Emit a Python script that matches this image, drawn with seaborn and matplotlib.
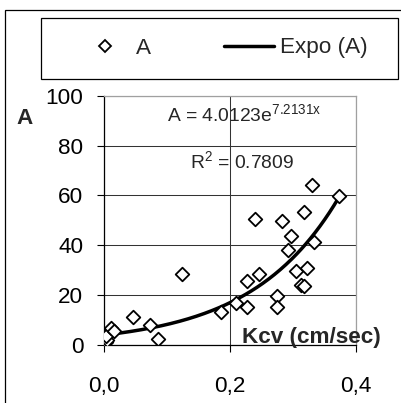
import numpy as np
import pandas as pd
import matplotlib
matplotlib.use("Agg")
import matplotlib.pyplot as plt
from matplotlib.patches import Rectangle
from matplotlib.lines import Line2D
import seaborn as sns

# ---- data ----
kcv = [0.003, 0.004, 0.003, 0.010, 0.015, 0.045, 0.073, 0.085, 0.123, 0.186,
       0.209, 0.227, 0.227, 0.240, 0.246, 0.274, 0.274, 0.283, 0.293, 0.297,
       0.305, 0.313, 0.318, 0.318, 0.322, 0.331, 0.334, 0.373]
a_vals = [1.3, 2.2, 3.8, 6.7, 5.7, 11.1, 8.0, 2.4, 28.6, 13.3,
          17.0, 15.1, 25.5, 50.7, 28.6, 19.7, 15.1, 49.9, 38.1, 43.7,
          29.8, 24.1, 23.8, 53.4, 31.0, 64.3, 41.3, 59.9]
fit_a = 4.0123
fit_b = 7.2131
r2 = 0.7809
x_ticks = [0.0, 0.2, 0.4]
x_tick_labels = ["0,0", "0,2", "0,4"]
y_ticks = [0, 20, 40, 60, 80, 100]

W, H = 401, 403
FS = 16.2
FS_EQ = 13.9

sns.set_style("white")
plt.rcParams["font.family"] = ["Liberation Sans", "DejaVu Sans"]
plt.rcParams["mathtext.fontset"] = "custom"
plt.rcParams["mathtext.rm"] = "Liberation Sans"

fig = plt.figure(figsize=(W / 100, H / 100), dpi=100)
fig.patch.set_facecolor("white")

# outer chart frame (extends past right/bottom edge)
fig.patches.append(Rectangle((5 / W, -0.1), 1.2, (H - 10) / H + 0.1,
                             transform=fig.transFigure, fill=False,
                             edgecolor="black", lw=0.9, zorder=0))

left, right = 104.3 / W, 355.7 / W
bottom, top = (H - 345) / H, (H - 95.7) / H
ax = fig.add_axes([left, bottom, right - left, top - bottom])

df = pd.DataFrame({"Kcv": kcv, "A": a_vals})
xs = np.linspace(min(kcv), max(kcv), 200)
trend = pd.DataFrame({"Kcv": xs, "A": fit_a * np.exp(fit_b * xs)})

sns.lineplot(data=trend, x="Kcv", y="A", ax=ax, color="black", lw=2.5, zorder=3)
sns.scatterplot(data=df, x="Kcv", y="A", ax=ax, marker="D", s=48,
                facecolor="white", edgecolor="black", linewidth=1.3, zorder=4)

ax.set_xlim(0, 0.4)
ax.set_ylim(0, 100)
ax.set_xticks(x_ticks)
ax.set_xticklabels(x_tick_labels)
ax.set_yticks(y_ticks)
ax.set_xlabel("")
ax.set_ylabel("")
ax.set_axisbelow(True)
ax.grid(True, color="#333333", lw=0.75)
ax.tick_params(axis="both", direction="out", length=5, width=0.8,
               color="black", labelsize=FS, labelcolor="black")
ax.tick_params(axis="y", pad=10, left=True)
ax.tick_params(axis="x", pad=17.5, bottom=True)
for s in ["left", "bottom"]:
    ax.spines[s].set_color("black")
    ax.spines[s].set_linewidth(0.9)
for s in ["top", "right"]:
    ax.spines[s].set_color("#a0a0a0")
    ax.spines[s].set_linewidth(0.9)

# axis titles
fig.text(311.5 / W, (H - 343.3) / H, "Kcv (cm/sec)", ha="center", va="baseline",
         fontsize=FS, fontweight="bold")
fig.text(25 / W, (H - 118) / H, "A", ha="center", va="center",
         fontsize=FS, fontweight="bold")

# trendline equation
fig.text(167 / W, (H - 120.7) / H,
         "A = %.4fe$\\mathregular{^{%.4fx}}$" % (fit_a, fit_b),
         ha="left", va="baseline", fontsize=FS_EQ)
fig.text(190 / W, (H - 168.3) / H, "R$\\mathregular{^2}$ = %.4f" % r2,
         ha="left", va="baseline", fontsize=FS_EQ)

# legend box
fig.patches.append(Rectangle((41 / W, (H - 79) / H), (398 - 41) / W, 61 / H,
                             transform=fig.transFigure, facecolor="white",
                             edgecolor="black", lw=0.9, zorder=1))
handles = [Line2D([], [], ls="none", marker="D", markersize=6.2,
                  markerfacecolor="white", markeredgecolor="black", markeredgewidth=1.3),
           Line2D([], [], color="black", lw=2.5)]
fig.legend(handles, ["A", "Expo (A)"], loc="center left",
           bbox_to_anchor=(80 / W, (H - 48) / H), ncol=2, frameon=False,
           fontsize=FS, handlelength=50 / (FS * 100 / 72), handletextpad=6 / (FS * 100 / 72),
           columnspacing=73 / (FS * 100 / 72), borderpad=0, borderaxespad=0)

fig.savefig("out.png", dpi=100)
